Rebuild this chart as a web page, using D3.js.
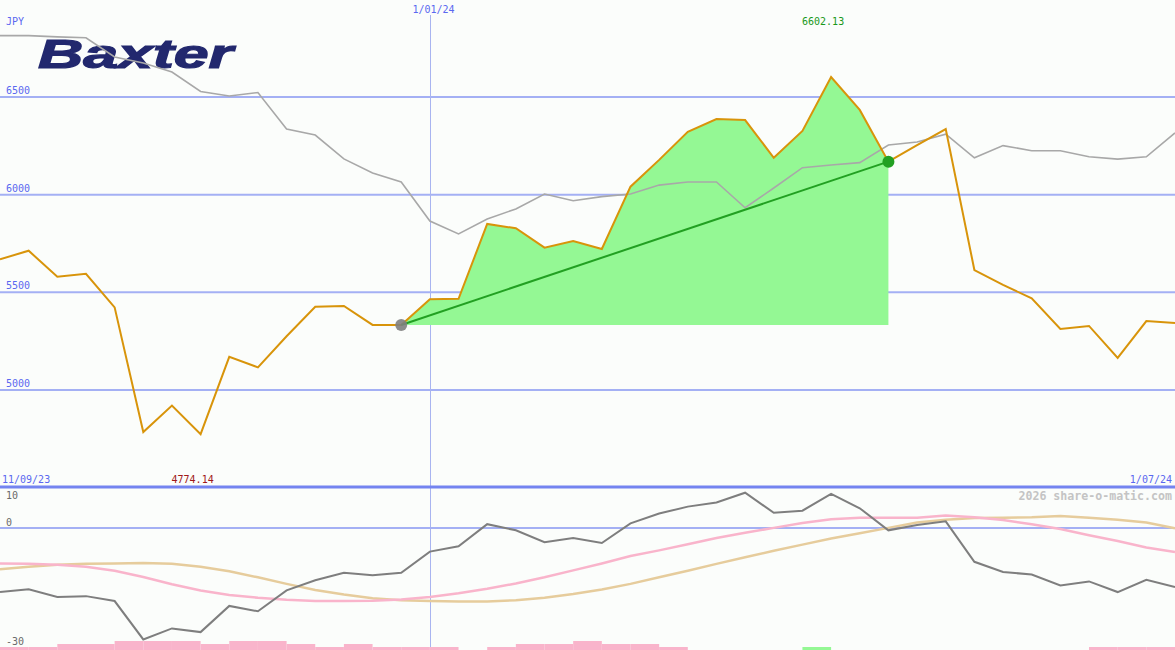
<!DOCTYPE html>
<html>
<head>
<meta charset="utf-8">
<script src="https://cdn.jsdelivr.net/npm/d3@7"></script>
<style>
  html, body { margin: 0; padding: 0; background: #fbfdfb; }
  svg { display: block; }
</style>
</head>
<body>
<svg id="chart" width="1175" height="650"></svg>
<script>
// ---------- data ----------
const dates = ["2023-09-18","2023-09-25","2023-10-02","2023-10-09","2023-10-16","2023-10-23","2023-10-30",
  "2023-11-06","2023-11-13","2023-11-20","2023-11-27","2023-12-04","2023-12-11","2023-12-18","2023-12-25",
  "2024-01-01","2024-01-08","2024-01-15","2024-01-22","2024-01-29","2024-02-05","2024-02-12","2024-02-19",
  "2024-02-26","2024-03-04","2024-03-11","2024-03-18","2024-03-25","2024-04-01","2024-04-08","2024-04-15",
  "2024-04-22","2024-04-29","2024-05-06","2024-05-13","2024-05-20","2024-05-27","2024-06-03","2024-06-10",
  "2024-06-17","2024-06-24","2024-07-01"];

// share price (JPY)
const close = [5669,5713,5580,5595,5423,4785,4920,4774.14,5170,5116,5275,5426,5430,5333,5333,5464,5467,5850,
  5828,5729,5763,5722,6041,6178,6322,6387,6382,6189,6326,6602.13,6434,6169,6254,6336,5614,5538,5469,5312,
  5328,5164,5353,5343];

// comparison index (grey), on price scale
const compare = [6814,6814,6808,6803,6705,6674,6628,6528,6505,6523,6336,6305,6183,6111,6065,5865,5799,5875,
  5927,6003,5969,5990,6003,6049,6065,6065,5933,6034,6138,6152,6164,6254,6270,6310,6189,6251,6225,6225,6194,
  6182,6194,6316];

// lower panel oscillators
const momentum = [-15.7,-15.0,-16.9,-16.7,-17.9,-27.3,-24.6,-25.5,-19.1,-20.4,-15.3,-12.8,-11.0,-11.6,-11.0,
  -5.8,-4.5,0.9,-0.6,-3.5,-2.5,-3.7,1.1,3.5,5.2,6.2,8.6,3.7,4.2,8.3,4.8,-0.6,0.7,1.6,-8.3,-10.8,-11.4,-14.1,
  -13.1,-15.7,-12.7,-14.5];
const fastAvg = [-8.7,-8.8,-9.0,-9.5,-10.5,-12.0,-13.8,-15.3,-16.4,-17.1,-17.6,-17.9,-17.9,-17.8,-17.5,-16.9,
  -16.0,-14.9,-13.6,-12.1,-10.4,-8.7,-6.9,-5.5,-4.0,-2.5,-1.2,0.0,1.2,2.1,2.5,2.5,2.5,3.0,2.6,1.9,0.9,-0.3,
  -1.8,-3.2,-4.8,-5.9];
const slowAvg = [-10.1,-9.5,-9.0,-8.8,-8.7,-8.6,-8.8,-9.5,-10.6,-12.1,-13.7,-15.2,-16.3,-17.2,-17.7,-17.9,
  -18.0,-18.0,-17.7,-17.1,-16.2,-15.1,-13.7,-12.1,-10.5,-8.8,-7.2,-5.6,-4.1,-2.6,-1.3,0.0,1.3,2.0,2.4,2.5,
  2.6,2.9,2.5,2.0,1.3,-0.1];
// weekly signal bars (one per interval): negative = pink, positive = green
const signal = [-1,-1,-2,-2,-3,-3,-3,-2,-3,-3,-2,-1,-2,-1,-1,-1,0,-1,-2,-2,-3,-2,-2,-1,0,0,0,0,1,0,0,0,0,0,
  0,0,0,0,-1,-1,-1];

const priceTicks = [5000, 5500, 6000, 6500];
const lowerTicks = [10, 0, -30];
const periodStart = 14, periodEnd = 31;
const markerDate = "2024-01-01";
const dateLabels = {left: "11/09/23", marker: "1/01/24", right: "1/07/24"};
const currency = "JPY";
const company = "Baxter";
const credit = "2026 share-o-matic.com";

// ---------- chart ----------
const W = 1175, H = 650;
const svg = d3.select("#chart");
const parse = d3.utcParse("%Y-%m-%d");
const D = dates.map(parse);

svg.append("rect").attr("width", W).attr("height", H).attr("fill", "#fbfdfb");

const x = d3.scaleUtc().domain([D[0], D[D.length - 1]]).range([0, W]);
const y = d3.scaleLinear().domain([5000, 6500]).range([390, 97]);
const y2 = d3.scaleLinear().domain([-30, 10]).range([650.5, 487]);
const barH = d3.scaleLinear().domain([0, 3]).range([0, 9]);

const mono = "'DejaVu Sans Mono', 'Liberation Mono', monospace";
const blue = "#5a68f0";

// logo
svg.append("text")
  .attr("x", 38).attr("y", 68)
  .attr("textLength", 195).attr("lengthAdjust", "spacingAndGlyphs")
  .attr("font-family", "'Liberation Sans', Arial, sans-serif")
  .attr("font-weight", "bold").attr("font-style", "italic")
  .attr("font-size", 41)
  .attr("fill", "#22286e").attr("stroke", "#22286e").attr("stroke-width", 1.2)
  .text(company);

// main grid
svg.append("g").selectAll("line").data(priceTicks).join("line")
  .attr("x1", 0).attr("x2", W)
  .attr("y1", d => y(d)).attr("y2", d => y(d))
  .attr("stroke", "#a4b0f4").attr("stroke-width", 2);
svg.append("g").selectAll("text").data(priceTicks).join("text")
  .attr("x", 6).attr("y", d => y(d) - 3)
  .attr("font-family", mono).attr("font-size", 10).attr("fill", blue)
  .text(d => d);

// vertical date marker
const mx = Math.round(x(parse(markerDate))) + 0.5;
svg.append("line").attr("x1", mx).attr("x2", mx).attr("y1", 15).attr("y2", H)
  .attr("stroke", "#a8b4f0").attr("stroke-width", 1);

// performance area
const idx = d3.range(periodStart, periodEnd + 1);
const base = close[periodStart];
svg.append("path")
  .attr("d", d3.area().x(i => x(D[i])).y0(y(base)).y1(i => y(close[i]))(idx))
  .attr("fill", "#94f894");

// comparison line
const lineMain = v => d3.line().x((d, i) => x(D[i])).y(d => y(d))(v);
svg.append("path").attr("d", lineMain(compare))
  .attr("fill", "none").attr("stroke", "#a8a8a8").attr("stroke-width", 1.6);

// price line
svg.append("path").attr("d", lineMain(close))
  .attr("fill", "none").attr("stroke", "#d8940a").attr("stroke-width", 2);

// trend line + markers
svg.append("line")
  .attr("x1", x(D[periodStart])).attr("y1", y(close[periodStart]))
  .attr("x2", x(D[periodEnd])).attr("y2", y(close[periodEnd]))
  .attr("stroke", "#22a022").attr("stroke-width", 2);
svg.append("circle").attr("cx", x(D[periodStart])).attr("cy", y(close[periodStart])).attr("r", 6)
  .attr("fill", "#808080").attr("opacity", 0.9);
svg.append("circle").attr("cx", x(D[periodEnd])).attr("cy", y(close[periodEnd])).attr("r", 6)
  .attr("fill", "#22a022");

// labels
svg.append("text").attr("x", 6).attr("y", 25).attr("font-family", mono).attr("font-size", 10)
  .attr("fill", blue).text(currency);
svg.append("text").attr("x", mx + 3).attr("y", 13).attr("text-anchor", "middle")
  .attr("font-family", mono).attr("font-size", 10).attr("fill", blue).text(dateLabels.marker);

const maxI = d3.maxIndex(close), minI = d3.minIndex(close);
svg.append("text").attr("x", x(D[maxI]) - 8).attr("y", 25).attr("text-anchor", "middle")
  .attr("font-family", mono).attr("font-size", 10).attr("fill", "#1a981a")
  .text(d3.format(".2f")(close[maxI]));
svg.append("text").attr("x", x(D[minI]) - 8).attr("y", 483).attr("text-anchor", "middle")
  .attr("font-family", mono).attr("font-size", 10).attr("fill", "#a01818")
  .text(d3.format(".2f")(close[minI]));

svg.append("text").attr("x", 2).attr("y", 483).attr("font-family", mono).attr("font-size", 10)
  .attr("fill", blue).text(dateLabels.left);
svg.append("text").attr("x", W - 3).attr("y", 483).attr("text-anchor", "end")
  .attr("font-family", mono).attr("font-size", 10).attr("fill", blue).text(dateLabels.right);

// ---------- lower panel ----------
svg.append("line").attr("x1", 0).attr("x2", W).attr("y1", y2(10)).attr("y2", y2(10))
  .attr("stroke", "#7484f0").attr("stroke-width", 3);
svg.append("line").attr("x1", 0).attr("x2", W).attr("y1", y2(0)).attr("y2", y2(0))
  .attr("stroke", "#a4b0f4").attr("stroke-width", 2);

svg.append("g").selectAll("text").data(lowerTicks).join("text")
  .attr("x", 6)
  .attr("y", d => d === 10 ? y2(d) + 12 : (d === 0 ? y2(d) - 2 : y2(d) - 5.5))
  .attr("font-family", mono).attr("font-size", 10).attr("fill", "#6a6a6a")
  .text(d => d);

svg.append("text").attr("x", W - 3).attr("y", 500).attr("text-anchor", "end")
  .attr("font-family", mono).attr("font-size", 11.6).attr("font-weight", "bold")
  .attr("fill", "#c4c4c4").text(credit);

// signal bars
svg.append("g").selectAll("rect").data(signal).join("rect")
  .attr("x", (d, i) => x(D[i]))
  .attr("width", (d, i) => x(D[i + 1]) - x(D[i]))
  .attr("y", d => H - barH(Math.abs(d)))
  .attr("height", d => barH(Math.abs(d)))
  .attr("fill", d => d > 0 ? "#94f894" : "#f9b4cb");

const lineLow = v => d3.line().x((d, i) => x(D[i])).y(d => y2(d))(v);
svg.append("path").attr("d", lineLow(slowAvg))
  .attr("fill", "none").attr("stroke", "#e6cc9c").attr("stroke-width", 2.5);
svg.append("path").attr("d", lineLow(fastAvg))
  .attr("fill", "none").attr("stroke", "#f9b4cb").attr("stroke-width", 2.5);
svg.append("path").attr("d", lineLow(momentum))
  .attr("fill", "none").attr("stroke", "#7e7e7e").attr("stroke-width", 2);
</script>
</body>
</html>
